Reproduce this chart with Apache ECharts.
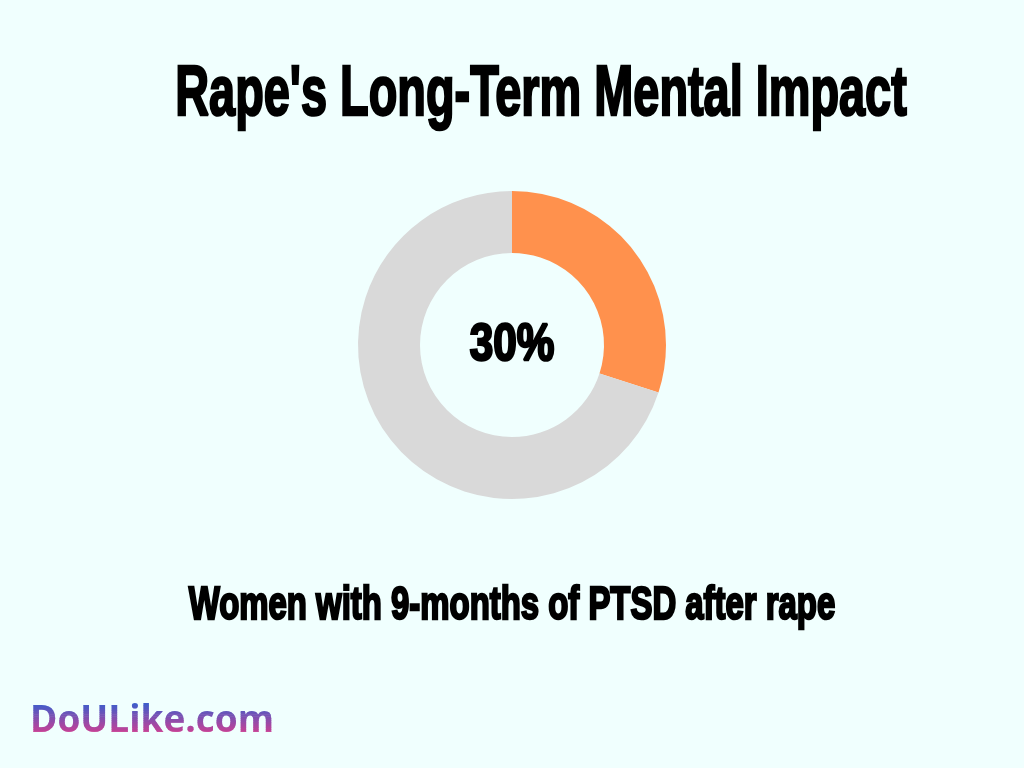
<!DOCTYPE html>
<html>
<head>
<meta charset="utf-8">
<script src="https://cdn.jsdelivr.net/npm/echarts@6/dist/echarts.min.js"></script>
<style>
html,body{margin:0;padding:0;background:#F0FFFE;}
#c{width:1024px;height:768px;}
</style>
</head>
<body>
<div id="c"></div>
<script>
const title = "Rape's Long-Term Mental Impact";
const subtitle = "Women with 9-months of PTSD after rape";
const categories = ["Women with PTSD after 9 months", "Others"];
const values = [30, 70];
const centerLabel = "30%";
const brand = "DoULike.com";

const chart = echarts.init(document.getElementById('c'), null, {renderer: 'canvas'});
const heavy = {fontFamily: 'Liberation Sans, Arial, sans-serif', fontWeight: 'bold', fill: '#000', stroke: '#000', lineWidth: 2.5};

chart.setOption({
  backgroundColor: '#F0FFFE',
  series: [{
    type: 'pie',
    center: [512, 345],
    radius: [92, 154],
    startAngle: 90,
    clockwise: true,
    silent: true,
    label: {show: false},
    labelLine: {show: false},
    data: categories.map((c, i) => ({
      name: c, value: values[i],
      itemStyle: {color: i === 0 ? '#FF914D' : '#D9D9D9'}
    }))
  }],
  graphic: [
    {type: 'text', x: 541, y: 95, scaleX: 0.66, scaleY: 1, originX: 0, originY: 0,
     style: Object.assign({}, heavy, {text: title, fontSize: 71, textAlign: 'center', textVerticalAlign: 'middle'})},
    {type: 'text', x: 512, y: 606, scaleX: 0.70, originX: 0, originY: 0,
     style: Object.assign({}, heavy, {text: subtitle, fontSize: 47, textAlign: 'center', textVerticalAlign: 'middle'})},
    {type: 'text', x: 512, y: 346, scaleX: 0.83, originX: 0, originY: 0,
     style: Object.assign({}, heavy, {text: centerLabel, fontSize: 51, textAlign: 'center', textVerticalAlign: 'middle'})}
  ]
});

// Brand text with a vertical blue->pink gradient, drawn as thin clipped bands
(function () {
  const zr = chart.getZr();
  const top = 703, bottom = 737, bands = 18;
  const c0 = [58, 94, 204], c1 = [222, 60, 140];
  const step = (bottom - top) / bands;
  for (let i = 0; i < bands; i++) {
    const t = (i + 0.5) / bands;
    const col = 'rgb(' + c0.map((v, k) => Math.round(v + (c1[k] - v) * t)).join(',') + ')';
    const y0 = (i === 0 ? top - 10 : top + i * step) - 721;
    const y1 = (i === bands - 1 ? bottom + 10 : top + (i + 1) * step) - 721;
    const txt = new echarts.graphic.Text({
      x: 30, y: 721, silent: true, z: 10,
      style: {text: brand, fontFamily: 'Open Sans, sans-serif', fontWeight: 'bold', fontSize: 37,
        align: 'left', verticalAlign: 'middle', fill: col}
    });
    txt.setClipPath(new echarts.graphic.Rect({shape: {x: -10, y: y0, width: 300, height: y1 - y0 + 0.5}}));
    zr.add(txt);
  }
})();
</script>
</body>
</html>
